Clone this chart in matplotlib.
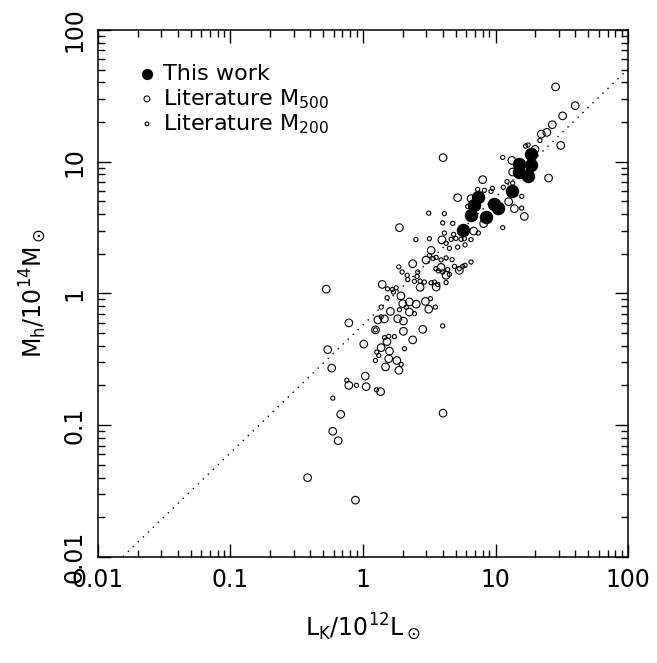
import numpy as np
import matplotlib
matplotlib.use("Agg")
import matplotlib.pyplot as plt
import matplotlib.ticker as ticker

# values, in dex (log10 L_K/1e12 Lsun, log10 M_h/1e14 Msun)
this_logL = [1.266, 1.179, 1.268, 1.176, 1.245, 1.121, 0.865, 0.840, 0.818,
             0.928, 0.991, 1.016, 0.752]
this_logM = [1.055, 0.984, 0.972, 0.921, 0.892, 0.778, 0.731, 0.668, 0.592,
             0.582, 0.679, 0.649, 0.482]

m500_logL = [1.453, 1.601, 1.506, 1.428, 1.387, 1.345, 1.492, 1.298, 1.123, 1.129,
             1.400, 0.903, 0.604, 1.099, 1.142, 1.217, 0.714, 0.815, 0.910, 0.275,
             0.835, 0.595, 0.514, 0.375, 0.476, 0.589, 0.627, 0.727, 0.431, 0.552,
             0.145, 0.286, 0.350, 0.402, 0.471, 0.300, 0.496, 0.207, 0.350, 0.112,
             0.162, 0.262, 0.305, 0.451, 0.305, -0.107, 0.094, 0.375, -0.277, 0.006,
             0.181, 0.137, 0.200, -0.266, 0.194, 0.255, -0.236, 0.170, 0.271, 0.017,
             -0.107, 0.024, 0.133, -0.168, 0.604, -0.228, -0.187, -0.418, -0.057]
m500_logM = [1.567, 1.425, 1.347, 1.280, 1.222, 1.209, 1.123, 1.093, 1.009, 0.921,
             0.875, 0.863, 1.030, 0.696, 0.643, 0.584, 0.726, 0.719, 0.529, 0.499,
             0.473, 0.406, 0.326, 0.225, 0.253, 0.197, 0.137, 0.175, 0.046, 0.048,
             0.068, -0.019, -0.065, -0.082, -0.061, -0.078, -0.120, -0.137, -0.142, -0.201,
             -0.194, -0.192, -0.210, -0.273, -0.288, -0.224, -0.277, -0.353, 0.032, -0.385,
             -0.366, -0.412, -0.438, -0.427, -0.496, -0.509, -0.567, -0.558, -0.584, -0.628,
             -0.698, -0.708, -0.746, -0.918, -0.909, -1.047, -1.118, -1.399, -1.569]

m200_logL = [1.335, 1.227, 1.245, 1.054, 1.087, 1.129, 1.059, 0.976, 0.966, 0.916,
             0.865, 1.198, 1.197, 0.790, 0.496, 0.614, 1.054, 0.601, 0.677, 0.614,
             0.684, 0.870, 0.399, 0.501, 0.665, 0.740, 0.765, 0.815, 0.627, 0.652,
             0.714, 0.770, 0.501, 0.528, 0.552, 0.589, 0.627, 0.672, 0.815, 0.752,
             0.727, 0.270, 0.295, 0.333, 0.413, 0.408, 0.550, 0.569, 0.601, 0.639,
             0.690, 0.770, 0.652, 0.338, 0.388, 0.431, 0.463, 0.514, 0.539, 0.564,
             0.627, 0.185, 0.222, 0.250, 0.230, 0.182, 0.509, 0.546, 0.137, 0.275,
             0.326, 0.137, 0.388, 0.601, 0.094, 0.162, 0.194, 0.237, 0.104, 0.119,
             0.313, 0.094, 0.288, -0.122, -0.049, 0.102, -0.228, 0.701]
m200_logM = [1.161, 1.118, 1.126, 1.032, 0.848, 0.837, 0.805, 0.797, 0.774, 0.782,
             0.789, 0.736, 0.647, 0.660, 0.609, 0.605, 0.499, 0.535, 0.531, 0.458,
             0.448, 0.458, 0.408, 0.415, 0.410, 0.410, 0.415, 0.408, 0.380, 0.342,
             0.351, 0.368, 0.288, 0.266, 0.273, 0.254, 0.269, 0.256, 0.238, 0.205,
             0.187, 0.201, 0.162, 0.137, 0.162, 0.129, 0.187, 0.171, 0.162, 0.180,
             0.205, 0.213, 0.144, 0.104, 0.091, 0.093, 0.086, 0.080, 0.086, 0.068,
             0.082, 0.034, 0.030, 0.042, 0.010, -0.033, -0.040, -0.104, -0.104, -0.124,
             -0.104, -0.178, -0.154, -0.247, -0.277, -0.336, -0.326, -0.328, -0.446, -0.471,
             -0.420, -0.509, -0.539, -0.660, -0.698, -0.732, -0.795, 0.417]

# fitted relation (dotted line): M = norm * L^slope
fit_norm = 0.577
fit_slope = 0.971

tick_vals = [0.01, 0.1, 1, 10, 100]
tick_labels = ["0.01", "0.1", "1", "10", "100"]

fig = plt.figure(figsize=(6.57, 6.63), dpi=100)
ax = fig.add_axes([0.149, 0.160, 0.807, 0.795])

ax.set_xscale("log")
ax.set_yscale("log")
ax.set_xlim(0.01, 100)
ax.set_ylim(0.01, 100)

lx = np.logspace(-2, 2, 200)
ax.plot(lx, fit_norm * lx**fit_slope, color="black", lw=1.0, linestyle=(0, (1, 4)))

ax.scatter(10**np.array(m500_logL), 10**np.array(m500_logM), s=30,
           facecolors="none", edgecolors="black", linewidths=0.8, zorder=3)
ax.scatter(10**np.array(m200_logL), 10**np.array(m200_logM), s=9,
           facecolors="none", edgecolors="black", linewidths=0.8, zorder=3)
ax.scatter(10**np.array(this_logL), 10**np.array(this_logM), s=75,
           color="black", zorder=4)

# legend drawn by hand
leg_y = [0.9165, 0.869, 0.8216]
ax.scatter([0.0925], [leg_y[0]], s=50, color="black", transform=ax.transAxes)
ax.scatter([0.0925], [leg_y[1]], s=18, facecolors="none", edgecolors="black",
           linewidths=0.8, transform=ax.transAxes)
ax.scatter([0.0925], [leg_y[2]], s=7, facecolors="none", edgecolors="black",
           linewidths=0.8, transform=ax.transAxes)
ax.text(0.1226, leg_y[0], "This work", transform=ax.transAxes, fontsize=16, va="center")
ax.text(0.1226, leg_y[1], "Literature M$_{500}$", transform=ax.transAxes, fontsize=16, va="center")
ax.text(0.1226, leg_y[2], "Literature M$_{200}$", transform=ax.transAxes, fontsize=16, va="center")

for axis in (ax.xaxis, ax.yaxis):
    axis.set_major_locator(ticker.FixedLocator(tick_vals))
    axis.set_major_formatter(ticker.FixedFormatter(tick_labels))
    axis.set_minor_locator(ticker.LogLocator(base=10, subs=np.arange(2, 10)))
    axis.set_minor_formatter(ticker.NullFormatter())

ax.tick_params(which="both", direction="in", top=True, right=True, width=1.0)
ax.tick_params(which="major", length=9.5, labelsize=17, pad=8)
ax.tick_params(which="minor", length=4.7)
plt.setp(ax.get_yticklabels(), rotation=90, va="center")
for sp in ax.spines.values():
    sp.set_linewidth(1.1)

ax.set_xlabel("L$_\\mathrm{K}$/10$^{12}$L$_\\odot$", fontsize=17, labelpad=14)
ax.set_ylabel("M$_\\mathrm{h}$/10$^{14}$M$_\\odot$", fontsize=17, labelpad=10)

plt.savefig("out.png", dpi=100)
